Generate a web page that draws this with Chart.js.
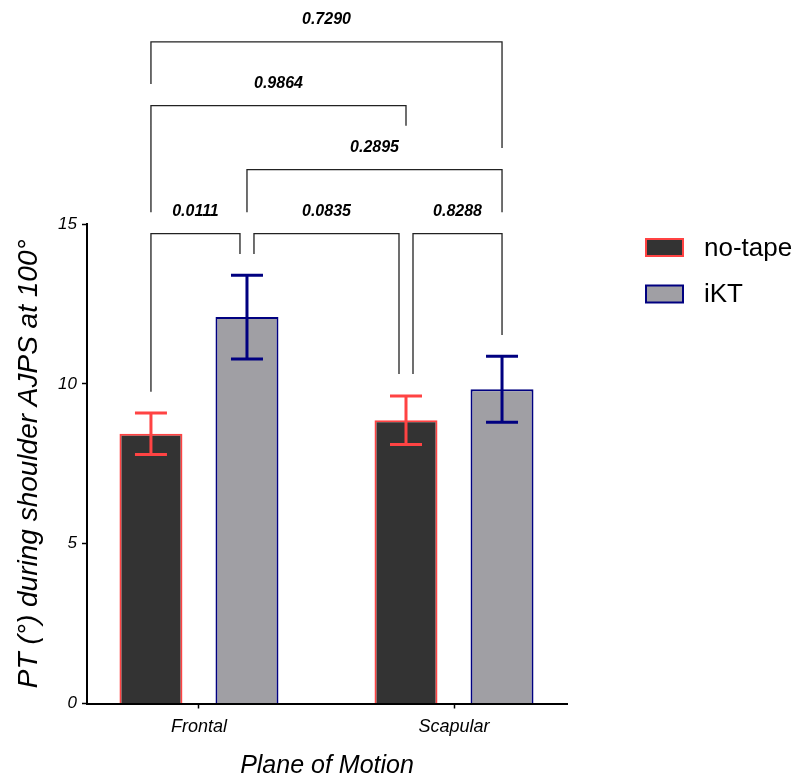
<!DOCTYPE html>
<html>
<head>
<meta charset="utf-8">
<script src="https://cdn.jsdelivr.net/npm/chart.js@4.4.1/dist/chart.umd.min.js"></script>
<style>
  html, body { margin: 0; padding: 0; background: #fff; }
</style>
</head>
<body>
<canvas id="chart" width="801" height="779"></canvas>
<script>
const categories = ['Frontal', 'Scapular'];
const seriesNames = ['no-tape', 'iKT'];
const noTapeMean = [8.44, 8.86];
const noTapeSD = [0.65, 0.76];
const iktMean = [12.09, 9.83];
const iktSD = [1.31, 1.03];
const yTicks = [0, 5, 10, 15];

// bars: 0 = Frontal no-tape, 1 = Frontal iKT, 2 = Scapular no-tape, 3 = Scapular iKT
const pairs = [[0, 1], [1, 2], [2, 3], [1, 3], [0, 2], [0, 3]];
const pValues = ['0.0111', '0.0835', '0.8288', '0.2895', '0.9864', '0.7290'];
const bracketLevels = [14.7, 14.7, 14.7, 16.7, 18.7, 20.7];
const legEnds = [[9.75, 14.06], [14.06, 10.31], [10.31, 11.53], [15.37, 15.37], [15.37, 18.07], [19.38, 17.38]];

const FONT = "'Liberation Sans', Arial, sans-serif";

const toPoints = arr => arr.map((v, i) => ({ x: i, y: v }));

const errorBars = {
  id: 'errorBars',
  afterDatasetsDraw(chart) {
    const { ctx, scales: { y } } = chart;
    chart.data.datasets.forEach((ds, di) => {
      chart.getDatasetMeta(di).data.forEach((bar, i) => {
        const m = ds.data[i].y, sd = ds.sd[i];
        const yTop = y.getPixelForValue(m + sd), yBot = y.getPixelForValue(m - sd);
        ctx.save();
        ctx.strokeStyle = ds.errColor;
        ctx.lineWidth = 3;
        ctx.beginPath();
        ctx.moveTo(bar.x, yTop); ctx.lineTo(bar.x, yBot);
        ctx.moveTo(bar.x - 16, yTop); ctx.lineTo(bar.x + 16, yTop);
        ctx.moveTo(bar.x - 16, yBot); ctx.lineTo(bar.x + 16, yBot);
        ctx.stroke();
        ctx.restore();
      });
    });
  }
};

const brackets = {
  id: 'brackets',
  afterDraw(chart) {
    const { ctx, scales: { y } } = chart;
    const barX = [];
    chart.data.datasets.forEach((ds, di) =>
      chart.getDatasetMeta(di).data.forEach((bar, i) => { barX[i * 2 + di] = bar.x; })
    );
    ctx.save();
    ctx.strokeStyle = '#222';
    ctx.lineWidth = 1.3;
    ctx.fillStyle = '#000';
    ctx.font = `italic bold 16px ${FONT}`;
    ctx.textAlign = 'center';
    ctx.textBaseline = 'middle';
    pairs.forEach(([a, b], k) => {
      const level = bracketLevels[k];
      // shift the end inward when another bracket on the same level uses that bar
      const shared = idx => pairs.some(([c, d], j) => j !== k && bracketLevels[j] === level && (c === idx || d === idx));
      const x1 = barX[a] + (shared(a) ? 7 : 0);
      const x2 = barX[b] - (shared(b) ? 7 : 0);
      const yl = y.getPixelForValue(level);
      ctx.beginPath();
      ctx.moveTo(x1, y.getPixelForValue(legEnds[k][0]));
      ctx.lineTo(x1, yl);
      ctx.lineTo(x2, yl);
      ctx.lineTo(x2, y.getPixelForValue(legEnds[k][1]));
      ctx.stroke();
      ctx.fillText(pValues[k], (x1 + x2) / 2, yl - 22);
    });
    ctx.restore();
  }
};

const legendBox = {
  id: 'legendBox',
  afterDraw(chart) {
    const { ctx, chartArea } = chart;
    const x0 = chartArea.right + 79, y0 = chartArea.top + 23.5;
    ctx.save();
    ctx.font = `26px ${FONT}`;
    ctx.textBaseline = 'middle';
    ctx.textAlign = 'left';
    chart.data.datasets.forEach((ds, i) => {
      const yc = y0 + i * 46.5;
      ctx.fillStyle = ds.backgroundColor;
      ctx.fillRect(x0, yc - 8.5, 37, 17);
      ctx.strokeStyle = ds.borderColor;
      ctx.lineWidth = 2;
      ctx.strokeRect(x0, yc - 8.5, 37, 17);
      ctx.fillStyle = '#000';
      ctx.fillText(ds.label, x0 + 58, yc + 1);
    });
    ctx.restore();
  }
};

new Chart(document.getElementById('chart'), {
  type: 'bar',
  data: {
    datasets: [
      { label: seriesNames[0], data: toPoints(noTapeMean), sd: noTapeSD,
        backgroundColor: '#333333', borderColor: '#ff4343', borderWidth: 2, errColor: '#ff4343' },
      { label: seriesNames[1], data: toPoints(iktMean), sd: iktSD,
        backgroundColor: '#a09fa4', borderColor: '#000080', borderWidth: 2, errColor: '#000080' }
    ]
  },
  options: {
    responsive: false,
    animation: false,
    layout: { padding: { top: 224, right: 234, left: 0, bottom: 0 } },
    datasets: { bar: { categoryPercentage: 0.753, barPercentage: 0.656 } },
    plugins: { legend: { display: false }, tooltip: { enabled: false } },
    scales: {
      x: {
        type: 'linear',
        offset: false,
        min: -0.439,
        max: 1.443,
        afterBuildTicks: s => { s.ticks = categories.map((c, i) => ({ value: i })); },
        afterFit: s => { s.height = 75.5; },
        ticks: {
          callback: v => categories[v],
          font: { family: FONT, size: 18, style: 'italic' },
          color: '#000', padding: 8, autoSkip: false, maxRotation: 0
        },
        grid: { offset: false, drawOnChartArea: false, tickLength: 5, color: '#000', tickWidth: 1.5 },
        border: { color: '#000', width: 2 },
        title: {
          display: true, text: 'Plane of Motion', color: '#000', padding: 0,
          font: { family: FONT, size: 25, style: 'italic', lineHeight: 1 }
        }
      },
      y: {
        min: 0,
        max: 15,
        afterBuildTicks: s => { s.ticks = yTicks.map(v => ({ value: v })); },
        afterFit: s => { s.width = 87; },
        ticks: { font: { family: FONT, size: 17, style: 'italic' }, color: '#000', padding: 5 },
        grid: { drawOnChartArea: false, tickLength: 5, color: '#000', tickWidth: 1.5 },
        border: { color: '#000', width: 2 },
        title: {
          display: true, text: 'PT (°) during shoulder AJPS at 100°', color: '#000',
          padding: { top: 12 },
          font: { family: FONT, size: 28, style: 'italic' }
        }
      }
    }
  },
  plugins: [errorBars, brackets, legendBox]
});
</script>
</body>
</html>
